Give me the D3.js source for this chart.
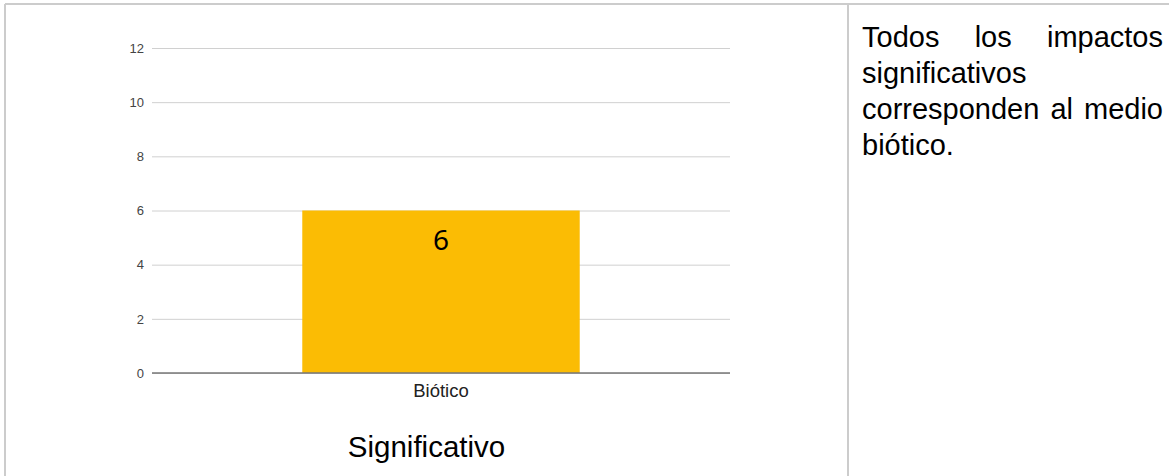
<!DOCTYPE html>
<html><head><meta charset="utf-8">
<script src="https://cdn.jsdelivr.net/npm/d3@7"></script>
<style>
html,body{margin:0;padding:0;background:#fff;}
body{width:1169px;height:476px;position:relative;overflow:hidden;font-family:Arial,"Liberation Sans",sans-serif;}
#note{position:absolute;left:862px;top:19px;width:301px;font-size:29px;line-height:36px;text-align:justify;color:#000;}
</style></head>
<body>
<svg id="chart" width="1169" height="476" style="position:absolute;left:0;top:0"></svg>
<div id="note">Todos los impactos significativos corresponden al medio biótico.</div>
<script>
const categories = ["Biótico"];
const values = [6];
const yTicks = [0, 2, 4, 6, 8, 10, 12];
const title = "Significativo";

const svg = d3.select("#chart");
// table borders
svg.append("line").attr("x1",5).attr("x2",1169).attr("y1",4).attr("y2",4).attr("stroke","#cccccc").attr("stroke-width",2);
svg.append("line").attr("x1",5).attr("x2",5).attr("y1",4).attr("y2",476).attr("stroke","#cccccc").attr("stroke-width",2);
svg.append("line").attr("x1",848).attr("x2",848).attr("y1",4).attr("y2",476).attr("stroke","#cccccc").attr("stroke-width",2);

const x0 = 152, x1 = 730, yTop = 48, yBot = 373;
const x = d3.scaleBand().domain(categories).range([x0, x1]).paddingInner(0.52).paddingOuter(0.26);
const y = d3.scaleLinear().domain([0, 12]).range([yBot, yTop]);

const yAxis = d3.axisLeft(y).tickValues(yTicks).tickSize(-(x1 - x0)).tickPadding(8);
const gy = svg.append("g").attr("transform", `translate(${x0},0)`).call(yAxis);
gy.select(".domain").remove();
gy.selectAll(".tick line").attr("stroke", "#d0d0d0").attr("stroke-width", 1);
gy.selectAll(".tick text").attr("fill", "#444").attr("font-size", 13).attr("font-family", "Arial, 'Liberation Sans', sans-serif");

svg.selectAll("rect.bar").data(values).join("rect").attr("class","bar")
  .attr("x", (d,i) => x(categories[i])).attr("width", x.bandwidth())
  .attr("y", d => y(d)).attr("height", d => y(0) - y(d))
  .attr("fill", "#fbbc04");

svg.selectAll("text.val").data(values).join("text").attr("class","val")
  .attr("x", (d,i) => x(categories[i]) + x.bandwidth()/2)
  .attr("y", d => y(d) + 39)
  .attr("text-anchor","middle").attr("font-size", 28).attr("fill","#000")
  .attr("font-family","'Noto Sans', 'Open Sans', sans-serif")
  .text(d => d);

// baseline
svg.append("line").attr("x1", x0).attr("x2", x1).attr("y1", y(0)).attr("y2", y(0)).attr("stroke", "#777").attr("stroke-width", 1.5);

const gx = svg.append("g").attr("transform", `translate(0,${yBot})`);
gx.selectAll("text").data(categories).join("text")
  .attr("x", d => x(d) + x.bandwidth()/2).attr("y", 24)
  .attr("text-anchor","middle").attr("fill","#222").attr("font-size",18.5)
  .attr("font-family","Arial, 'Liberation Sans', sans-serif").text(d => d);

svg.append("text").attr("x", 426.5).attr("y", 457).attr("text-anchor","middle")
  .attr("font-size", 29.5).attr("fill","#000").attr("font-family","Arial, 'Liberation Sans', sans-serif").text(title);
</script>
</body></html>
